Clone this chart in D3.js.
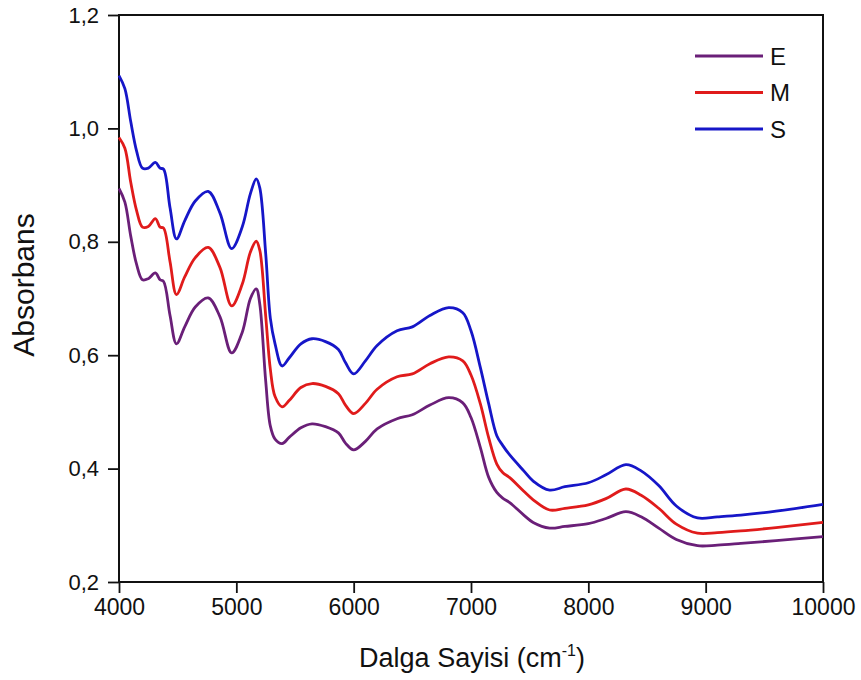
<!DOCTYPE html>
<html>
<head>
<meta charset="utf-8">
<script src="https://cdn.jsdelivr.net/npm/d3@7"></script>
<style>
    body { margin: 0; background: #fff; }
    text { font-family: "Liberation Sans", Arial, sans-serif; fill: #111; }
</style>
</head>
<body>
<div id="chart"></div>
<script>
// wavenumbers (cm-1) shared by all three spectra
const wavenumbers = [4000, 4050, 4100, 4150, 4200, 4250, 4310, 4350, 4380, 4435, 4490, 4560, 4650, 4760, 4860, 4960,
    5050, 5120, 5170, 5200, 5250, 5290, 5330, 5390, 5450, 5550, 5645, 5760, 5870, 5930, 6000, 6100, 6200, 6370,
    6500, 6650, 6810, 6930, 7000, 7080, 7150, 7220, 7270, 7330, 7450, 7530, 7670, 7800, 8000, 8150, 8320, 8450,
    8600, 8750, 8930, 9100, 9300, 9600, 10000];

const seriesE = [0.894, 0.870, 0.810, 0.760, 0.733, 0.735, 0.745, 0.733, 0.730, 0.670, 0.620, 0.650, 0.685, 0.701, 0.668, 0.604,
    0.640, 0.700, 0.717, 0.690, 0.555, 0.475, 0.452, 0.444, 0.455, 0.472, 0.479, 0.474, 0.463, 0.445, 0.433, 0.448, 0.470, 0.488,
    0.495, 0.512, 0.525, 0.516, 0.490, 0.437, 0.385, 0.358, 0.348, 0.340, 0.318, 0.305, 0.295, 0.298, 0.303, 0.312, 0.324, 0.315,
    0.295, 0.275, 0.264, 0.265, 0.268, 0.273, 0.280];

const seriesM = [0.984, 0.965, 0.905, 0.855, 0.826, 0.827, 0.841, 0.826, 0.824, 0.765, 0.707, 0.738, 0.772, 0.790, 0.755, 0.687,
    0.725, 0.782, 0.801, 0.785, 0.670, 0.575, 0.527, 0.509, 0.520, 0.543, 0.550, 0.545, 0.532, 0.512, 0.497, 0.515, 0.540, 0.562,
    0.567, 0.585, 0.597, 0.590, 0.565, 0.514, 0.455, 0.408, 0.393, 0.384, 0.360, 0.345, 0.327, 0.330, 0.336, 0.347, 0.364, 0.353,
    0.330, 0.302, 0.286, 0.287, 0.290, 0.296, 0.305];

const seriesS = [1.093, 1.070, 1.012, 0.960, 0.930, 0.930, 0.940, 0.930, 0.928, 0.860, 0.805, 0.837, 0.872, 0.889, 0.851, 0.788,
    0.826, 0.885, 0.911, 0.895, 0.780, 0.665, 0.620, 0.581, 0.595, 0.620, 0.629, 0.624, 0.610, 0.587, 0.567, 0.590, 0.617, 0.643,
    0.650, 0.670, 0.684, 0.675, 0.643, 0.578, 0.515, 0.458, 0.441, 0.424, 0.396, 0.378, 0.362, 0.368, 0.375, 0.389, 0.407, 0.396,
    0.370, 0.334, 0.313, 0.315, 0.318, 0.325, 0.337];

const seriesNames = ['E', 'M', 'S'];
const seriesColors = ['#6a1f78', '#e01b1b', '#1616c8'];
const xTicks = [4000, 5000, 6000, 7000, 8000, 9000, 10000];
const yTicks = [0.2, 0.4, 0.6, 0.8, 1.0, 1.2];

const width = 861, height = 680;
const margin = {top: 15, right: 38, bottom: 98, left: 119};
const innerW = width - margin.left - margin.right,
    innerH = height - margin.top - margin.bottom;

const svg = d3.select('#chart').append('svg')
    .attr('width', width)
    .attr('height', height);

const chart = svg.append('g')
    .attr('transform', `translate(${margin.left},${margin.top})`);

const xScale = d3.scaleLinear().domain([4000, 10000]).range([0, innerW]);
const yScale = d3.scaleLinear().domain([0.2, 1.2]).range([innerH, 0]);

const fmt = d => d3.format('.1f')(d).replace('.', ',');

// axes
const xAxisG = chart.append('g')
    .attr('transform', `translate(0,${innerH})`)
    .call(d3.axisBottom(xScale).tickValues(xTicks).tickSize(11).tickPadding(6).tickFormat(d3.format('d')));

const yAxisG = chart.append('g')
    .call(d3.axisLeft(yScale).tickValues(yTicks).tickSize(11).tickPadding(9).tickFormat(fmt));

[xAxisG, yAxisG].forEach(g => {
    g.select('.domain').remove();
    g.selectAll('.tick line').attr('stroke', '#111').attr('stroke-width', 1.8);
    g.selectAll('.tick text').style('font-size', '22px').attr('fill', '#111');
});
xAxisG.selectAll('.tick text').style('font-size', '23px');

// frame
chart.append('rect')
    .attr('width', innerW)
    .attr('height', innerH)
    .attr('fill', 'none')
    .attr('stroke', '#111')
    .attr('stroke-width', 2);

// lines
const line = d3.line()
    .x((d, i) => xScale(wavenumbers[i]))
    .y(d => yScale(d))
    .curve(d3.curveCatmullRom.alpha(0.5));

[seriesE, seriesM, seriesS].forEach((s, i) => {
    chart.append('path')
        .datum(s)
        .attr('fill', 'none')
        .attr('stroke', seriesColors[i])
        .attr('stroke-width', 2.8)
        .attr('stroke-linejoin', 'round')
        .attr('d', line);
});

// legend
const legend = chart.append('g')
    .attr('transform', `translate(${695 - margin.left},${56 - margin.top})`);
seriesNames.forEach((name, i) => {
    legend.append('line')
        .attr('x1', 0).attr('x2', 68)
        .attr('y1', i * 36.5).attr('y2', i * 36.5)
        .attr('stroke', seriesColors[i])
        .attr('stroke-width', 2.8);
    legend.append('text')
        .attr('x', 75)
        .attr('y', i * 36.5)
        .attr('dy', '0.36em')
        .style('font-size', '24px')
        .text(name);
});

// x axis label
const xLabel = svg.append('text')
    .attr('x', 472)
    .attr('y', 667)
    .style('text-anchor', 'middle')
    .style('font-size', '27px');
xLabel.append('tspan').text('Dalga Sayisi (cm');
xLabel.append('tspan').attr('dy', -11).style('font-size', '16px').text('-1');
xLabel.append('tspan').attr('dy', 11).text(')');

// y axis label
svg.append('text')
    .attr('transform', 'rotate(-90)')
    .attr('x', -285)
    .attr('y', 34)
    .style('text-anchor', 'middle')
    .style('font-size', '30px')
    .text('Absorbans');
</script>
</body>
</html>
